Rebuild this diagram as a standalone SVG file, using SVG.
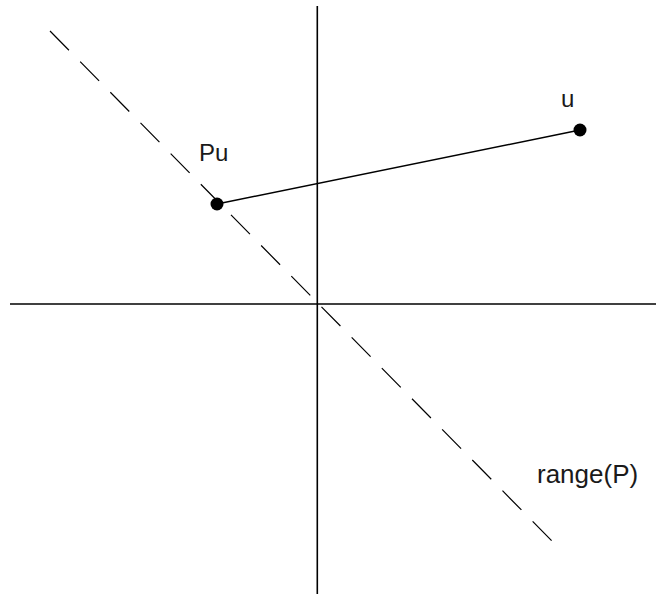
<svg xmlns="http://www.w3.org/2000/svg" width="656" height="594" viewBox="0 0 656 594">
<style>
.axis{stroke:#000;stroke-width:1.6;fill:none}
.range{stroke:#000;stroke-width:1.2;fill:none;stroke-dasharray:27 16}
.seg{stroke:#000;stroke-width:1.4;fill:none}
.pt{fill:#000}
.lbl{font-family:"Liberation Sans",Arial,sans-serif;font-size:24px;fill:#1a1a1a}
</style>
<rect width="656" height="594" fill="#fff"/>
<g id="connectors">
<line class="axis" x1="317.3" y1="6" x2="317.3" y2="594"/>
<line class="axis" x1="10" y1="304" x2="656" y2="304"/>
<line class="range" x1="50" y1="31" x2="553" y2="542"/>
<line class="seg" x1="217" y1="204" x2="580" y2="130"/>
</g>
<g id="Pu">
<circle class="pt" cx="217" cy="204" r="6.5"/>
<text class="lbl" x="199" y="161">Pu</text>
</g>
<g id="u">
<circle class="pt" cx="580" cy="130" r="6.5"/>
<text class="lbl" x="561" y="107">u</text>
</g>
<g id="rangeP">
<text class="lbl" x="537" y="483" style="font-size:26px">range(P)</text>
</g>
</svg>
